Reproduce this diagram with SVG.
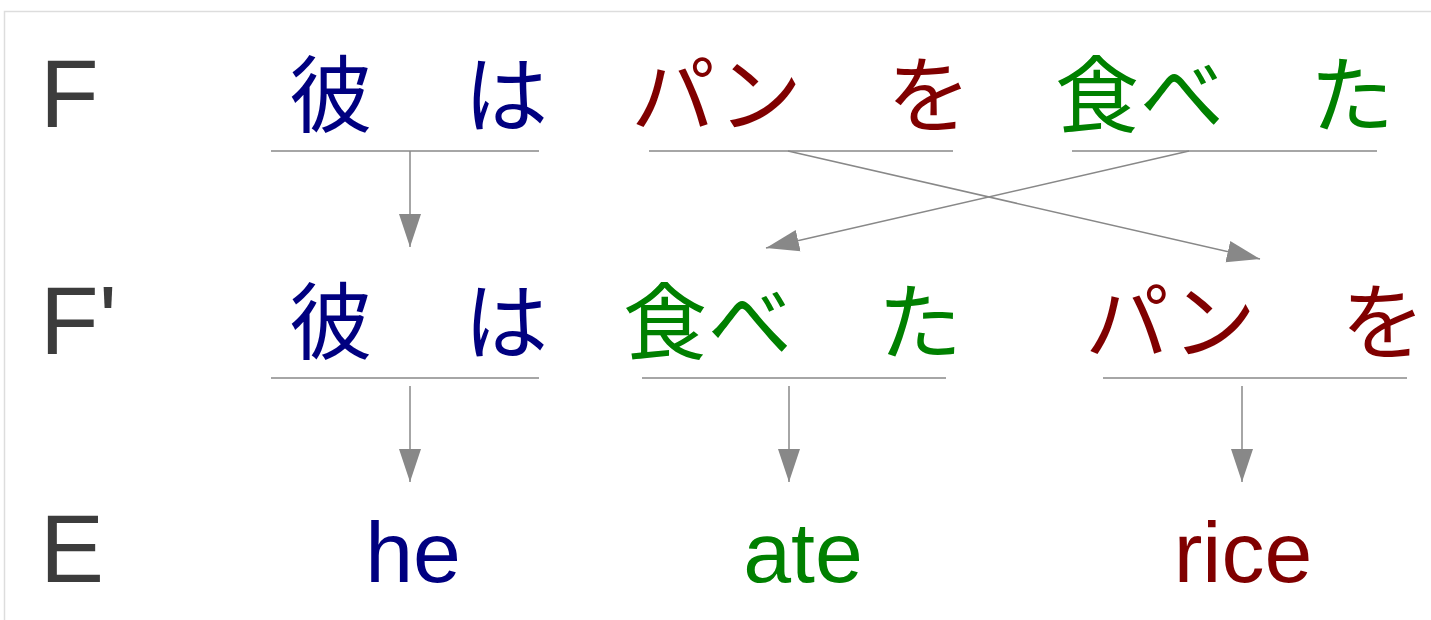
<svg xmlns="http://www.w3.org/2000/svg" width="1431" height="620" viewBox="0 0 1431 620">
<style>
.lbl{font-family:"Liberation Sans",Arial,sans-serif;font-size:96px;fill:#3c3c3c}
.jp{font-family:"Noto Sans CJK JP","Noto Sans CJK SC",sans-serif;font-size:84px;text-anchor:middle}
.en{font-family:"Liberation Sans",Arial,sans-serif;font-size:86px;text-anchor:middle}
.blue{fill:#000080}.red{fill:#800000}.green{fill:#008000}
.ul{stroke:#888;stroke-width:1.5;fill:none}
.conn line{stroke:#888;stroke-width:1.5;marker-end:url(#ah)}
</style>
<defs>
<marker id="ah" markerUnits="userSpaceOnUse" markerWidth="34" markerHeight="24" viewBox="0 0 34 24" refX="33" refY="12" orient="auto">
<path d="M0,1 L33,12 L0,23 z" fill="#888"/>
</marker>
</defs>
<rect x="4.5" y="11.5" width="1440" height="620" fill="#fff" stroke="#ddd" stroke-width="1.5"/>
<g id="labels">
<text class="lbl" x="40" y="127">F</text>
<text class="lbl" x="40" y="354">F'</text>
<text class="lbl" x="40" y="582">E</text>
</g>
<g id="f-kare">
<text class="jp blue" y="126"><tspan x="331">彼</tspan><tspan x="506">は</tspan></text>
<line class="ul" x1="271" y1="151" x2="539" y2="151"/>
</g>
<g id="f-pan">
<text class="jp red" y="126"><tspan x="673">パ</tspan><tspan x="760">ン</tspan><tspan x="929">を</tspan></text>
<line class="ul" x1="649" y1="151" x2="953" y2="151"/>
</g>
<g id="f-tabeta">
<text class="jp green" y="126"><tspan x="1097">食</tspan><tspan x="1182">べ</tspan><tspan x="1352">た</tspan></text>
<line class="ul" x1="1072" y1="151" x2="1377" y2="151"/>
</g>
<g id="fp-kare">
<text class="jp blue" y="353"><tspan x="331">彼</tspan><tspan x="506">は</tspan></text>
<line class="ul" x1="271" y1="378" x2="539" y2="378"/>
</g>
<g id="fp-tabeta">
<text class="jp green" y="353"><tspan x="665">食</tspan><tspan x="750">べ</tspan><tspan x="920">た</tspan></text>
<line class="ul" x1="642" y1="378" x2="946" y2="378"/>
</g>
<g id="fp-pan">
<text class="jp red" y="353"><tspan x="1127">パ</tspan><tspan x="1214">ン</tspan><tspan x="1383">を</tspan></text>
<line class="ul" x1="1103" y1="378" x2="1407" y2="378"/>
</g>
<g id="e-he"><text class="en blue" x="413" y="582">he</text></g>
<g id="e-ate"><text class="en green" x="803" y="582">ate</text></g>
<g id="e-rice"><text class="en red" x="1243" y="582">rice</text></g>
<g id="connectors" class="conn">
<line x1="410" y1="151" x2="410" y2="247"/>
<line x1="788" y1="151" x2="1260" y2="259"/>
<line x1="1189" y1="151" x2="766" y2="248"/>
<line x1="410" y1="386" x2="410" y2="482"/>
<line x1="789" y1="386" x2="789" y2="482"/>
<line x1="1242" y1="386" x2="1242" y2="482"/>
</g>
</svg>
